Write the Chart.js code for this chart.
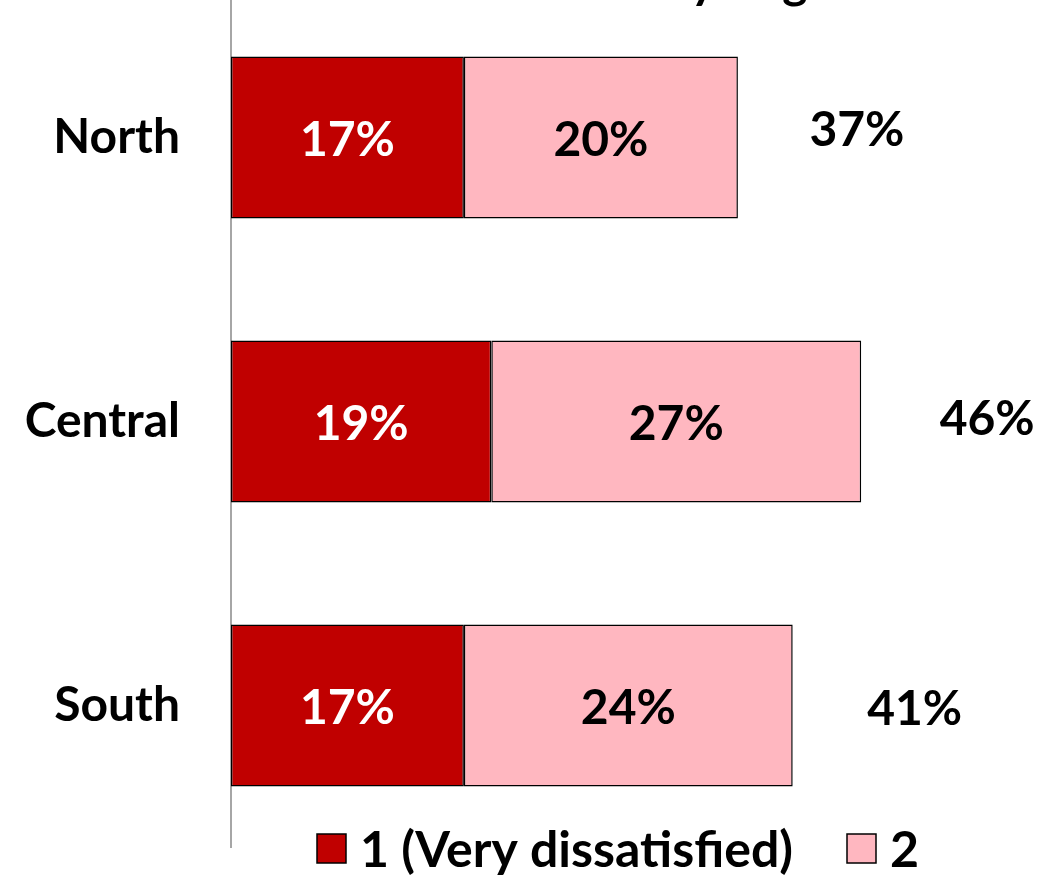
<!DOCTYPE html>
<html><head><meta charset="utf-8">
<script src="https://cdn.jsdelivr.net/npm/chart.js@4/dist/chart.umd.min.js"></script>
<style>html,body{margin:0;padding:0;background:#fff;}#wrap{width:1063px;height:877px;position:relative;}</style>
</head><body><div id="wrap"><canvas id="c" width="1063" height="877"></canvas></div>
<script>
const titleText = 'Dissatisfaction by Region';
const categories = ['North', 'Central', 'South'];
const seriesNames = ['1 (Very dissatisfied)', '2'];
const veryDissatisfied = [17, 19, 17];
const dissatisfied = [20, 27, 24];
const seriesColors = ['#C00000', '#FFB7C0'];
const labelColors = ['#FFFFFF', '#000000'];
// placement nudges of the total labels (pixels)
const totalDx = [119, 126, 122];
const totalDy = [-8, -3, 3];

const FONT = 'Lato, "Open Sans", sans-serif';

const labelsPlugin = {
  id: 'labelsPlugin',
  afterLayout(chart) {
    // the plot area begins slightly above the canvas edge (cropped figure)
    const ys = chart.scales.y;
    ys.top = -4.5;
    chart.chartArea.top = -4.5;
    chart.chartArea.height = chart.chartArea.bottom - chart.chartArea.top;
    ys.configure();
  },
  afterDatasetsDraw(chart) {
    const ctx = chart.ctx;
    ctx.save();
    ctx.font = 'bold 48px ' + FONT;
    ctx.textAlign = 'center';
    ctx.textBaseline = 'middle';
    chart.data.datasets.forEach((ds, di) => {
      const meta = chart.getDatasetMeta(di);
      meta.data.forEach((bar, i) => {
        const p = bar.getProps(['x', 'base', 'y'], true);
        ctx.fillStyle = labelColors[di];
        ctx.fillText(ds.data[i] + '%', (p.x + p.base) / 2, p.y + 3);
      });
    });
    const xs = chart.scales.x;
    const meta0 = chart.getDatasetMeta(0);
    ctx.fillStyle = '#000';
    categories.forEach((c, i) => {
      const total = veryDissatisfied[i] + dissatisfied[i];
      const y = meta0.data[i].y;
      ctx.fillText(total + '%', xs.getPixelForValue(total) + totalDx[i], y + totalDy[i] + 1);
    });
    ctx.restore();
  },
  afterDraw(chart) {
    const ctx = chart.ctx;
    ctx.save();
    ctx.font = 'bold 48px ' + FONT;
    ctx.fillStyle = '#000';
    ctx.textAlign = 'center';
    ctx.textBaseline = 'alphabetic';
    ctx.fillText(titleText, 605, -2);
    ctx.font = 'bold 50px ' + FONT;
    ctx.textAlign = 'left';
    ctx.textBaseline = 'middle';
    const items = [{x: 317, t: seriesNames[0], c: seriesColors[0]}, {x: 847, t: seriesNames[1], c: seriesColors[1]}];
    items.forEach(it => {
      ctx.fillStyle = it.c;
      ctx.fillRect(it.x, 834, 29, 29);
      ctx.strokeStyle = '#000';
      ctx.lineWidth = 1.5;
      ctx.strokeRect(it.x, 834, 29, 29);
      ctx.fillStyle = '#000';
      ctx.fillText(it.t, it.x + 43, 851);
    });
    ctx.restore();
  }
};

new Chart(document.getElementById('c'), {
  type: 'bar',
  data: {
    labels: categories,
    datasets: [
      {label: seriesNames[0], data: veryDissatisfied, backgroundColor: seriesColors[0], borderColor: '#000', borderWidth: 1.5, borderSkipped: false},
      {label: seriesNames[1], data: dissatisfied, backgroundColor: seriesColors[1], borderColor: '#000', borderWidth: 1.5, borderSkipped: false}
    ]
  },
  options: {
    indexAxis: 'y',
    responsive: false,
    animation: false,
    devicePixelRatio: 1,
    layout: {padding: {top: 0, bottom: 29.5, right: 10, left: 0}},
    categoryPercentage: 1,
    barPercentage: 0.57,
    plugins: {legend: {display: false}, title: {display: false}, tooltip: {enabled: false}},
    scales: {
      x: {stacked: true, min: 0, max: 60, display: false},
      y: {
        stacked: true,
        grid: {display: false, drawTicks: false},
        border: {display: true, color: '#A6A6A6', width: 2},
        ticks: {color: '#000', padding: 51, font: {family: FONT, size: 48, weight: 'bold'}},
        afterFit(s) { s.width = 231; s.paddingTop = 0; s.paddingBottom = 0; }
      }
    }
  },
  plugins: [labelsPlugin]
});
</script></body></html>
